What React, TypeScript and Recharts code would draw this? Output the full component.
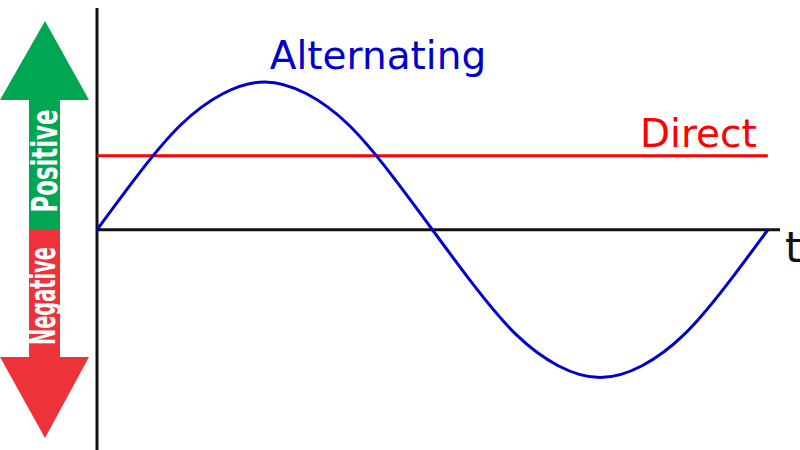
import { LineChart, Line, XAxis, YAxis, ReferenceLine } from 'recharts'

// time steps (1/16 of a period each) and the readings of the sine curve
const phase = [0, 1, 2, 3, 4, 5, 6, 7, 8, 9, 10, 11, 12, 13, 14, 15, 16]
const alternating = [0, 0.38, 0.71, 0.92, 1, 0.92, 0.71, 0.38, 0, -0.38, -0.71, -0.92, -1, -0.92, -0.71, -0.38, 0]
const directLevel = 0.5
const timeSpan = [0, 16]

const labels = { alternating: 'Alternating', direct: 'Direct', time: 't', positive: 'Positive', negative: 'Negative' }

const BLUE = '#0000cc'
const RED = '#ff0000'
const GREEN_ARROW = '#00a651'
const RED_ARROW = '#ed3239'
const AXIS = '#111111'
const FONT = '"DejaVu Sans", sans-serif'
const CONDENSED = '"DejaVu Sans Condensed", "DejaVu Sans", sans-serif'

const data = phase.map((x, i) => ({ x, ac: alternating[i] }))

function DirectLabel(props: any) {
  const vb = props.viewBox || {}
  return (
    <text x={vb.x + vb.width - 11} y={vb.y - 9} textAnchor="end" fill={RED} fontSize={39} fontFamily={FONT}>
      {labels.direct}
    </text>
  )
}

function TimeLabel(props: any) {
  const vb = props.viewBox || {}
  return (
    <text x={vb.x + vb.width + 5} y={vb.y + 32} textAnchor="start" fill={AXIS} fontSize={42} fontFamily={FONT}>
      {labels.time}
    </text>
  )
}

function Arrows() {
  return (
    <svg width={800} height={450} style={{ position: 'absolute', left: 0, top: 0, pointerEvents: 'none' }}>
      <polygon points="45,21 89,100 60,100 60,230 29,230 29,100 0,100" fill={GREEN_ARROW} />
      <polygon points="29,230 60,230 60,357 89,357 45,438 0,357 29,357" fill={RED_ARROW} />
      <text
        transform="translate(57,161) rotate(-90)"
        textAnchor="middle"
        fill="#ffffff"
        fontSize={35}
        fontWeight="bold"
        fontFamily={CONDENSED}
        textLength={103}
        lengthAdjust="spacingAndGlyphs"
      >
        {labels.positive}
      </text>
      <text
        transform="translate(55,296) rotate(-90)"
        textAnchor="middle"
        fill="#ffffff"
        fontSize={35}
        fontWeight="bold"
        fontFamily={CONDENSED}
        textLength={98}
        lengthAdjust="spacingAndGlyphs"
      >
        {labels.negative}
      </text>
      <text x={378} y={69} textAnchor="middle" fill={BLUE} fontSize={39} fontFamily={FONT}>
        {labels.alternating}
      </text>
    </svg>
  )
}

export default function App() {
  return (
    <div style={{ position: 'absolute', left: 0, top: 0, width: 800, height: 450, background: '#fff' }}>
      <LineChart width={800} height={450} data={data} margin={{ top: 8, right: 20, bottom: 0, left: 97 }}>
        <XAxis type="number" dataKey="x" domain={[0, 16.29]} hide />
        <YAxis type="number" domain={[-1.49, 1.5]} hide allowDataOverflow />
        <ReferenceLine x={0} stroke={AXIS} strokeWidth={3} />
        <ReferenceLine y={0} stroke={AXIS} strokeWidth={3} label={<TimeLabel />} />
        <ReferenceLine
          segment={[
            { x: timeSpan[0], y: directLevel },
            { x: timeSpan[1], y: directLevel },
          ]}
          stroke={RED}
          strokeWidth={3}
          label={<DirectLabel />}
        />
        <Line type="natural" dataKey="ac" stroke={BLUE} strokeWidth={3} dot={false} isAnimationActive={false} />
      </LineChart>
      <Arrows />
    </div>
  )
}
